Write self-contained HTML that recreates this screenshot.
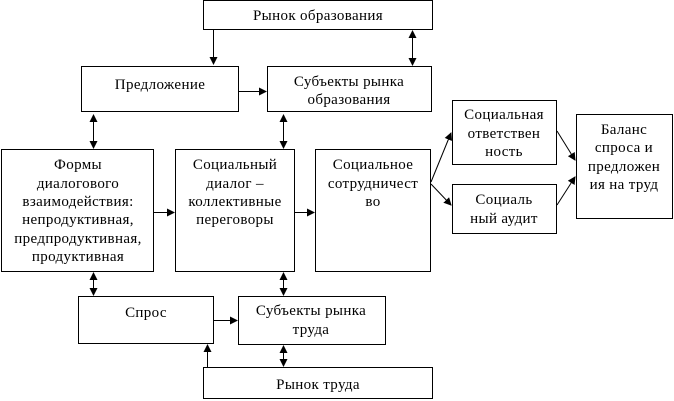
<!DOCTYPE html><html><head><meta charset="utf-8"><style>body{margin:0;background:#fff}svg{display:block}text{font-family:"Liberation Serif",serif;font-size:15px;letter-spacing:0.35px;fill:#000;text-anchor:middle}</style></head><body>
<svg width="674" height="401" viewBox="0 0 674 401">
<defs><marker id="a" markerWidth="8" markerHeight="8" refX="7" refY="4" orient="auto" markerUnits="userSpaceOnUse"><path d="M0,0 L8,4 L0,8z"/></marker>
<marker id="b" markerWidth="8" markerHeight="8" refX="1" refY="4" orient="auto" markerUnits="userSpaceOnUse"><path d="M8,0 L0,4 L8,8z"/></marker></defs>
<g fill="#fff" stroke="#000" stroke-width="1">
<rect x="203.5" y="0.5" width="229" height="29"/>
<rect x="81.5" y="66.5" width="157" height="45"/>
<rect x="267.5" y="66.5" width="164" height="45"/>
<rect x="1.5" y="149.5" width="152" height="122"/>
<rect x="175.5" y="149.5" width="119" height="122"/>
<rect x="315.5" y="149.5" width="115" height="122"/>
<rect x="452.5" y="100.5" width="104" height="64"/>
<rect x="452.5" y="184.5" width="104" height="49"/>
<rect x="576.5" y="114.5" width="96" height="104"/>
<rect x="78.5" y="296.5" width="135" height="47"/>
<rect x="238.5" y="296.5" width="147" height="48"/>
<rect x="203.5" y="367.5" width="229" height="31"/>
</g>
<g stroke="#000" stroke-width="1" fill="none">
<line x1="213.5" y1="30" x2="213.5" y2="64" marker-end="url(#a)"/>
<line x1="412.5" y1="31" x2="412.5" y2="65" marker-start="url(#b)" marker-end="url(#a)"/>
<line x1="239" y1="91.5" x2="266" y2="91.5" marker-end="url(#a)"/>
<line x1="93.5" y1="115" x2="93.5" y2="148" marker-start="url(#b)" marker-end="url(#a)"/>
<line x1="283.5" y1="115" x2="283.5" y2="148" marker-start="url(#b)" marker-end="url(#a)"/>
<line x1="154" y1="212.5" x2="174" y2="212.5" marker-end="url(#a)"/>
<line x1="295" y1="212.5" x2="314" y2="212.5" marker-end="url(#a)"/>
<line x1="431" y1="182" x2="451" y2="133" marker-end="url(#a)"/>
<line x1="431" y1="184" x2="451" y2="205" marker-end="url(#a)"/>
<line x1="557" y1="131" x2="575" y2="160" marker-end="url(#a)"/>
<line x1="557" y1="205" x2="575" y2="177" marker-end="url(#a)"/>
<line x1="93.5" y1="273" x2="93.5" y2="295" marker-start="url(#b)" marker-end="url(#a)"/>
<line x1="283.5" y1="273" x2="283.5" y2="295" marker-start="url(#b)" marker-end="url(#a)"/>
<line x1="214" y1="320.5" x2="237" y2="320.5" marker-end="url(#a)"/>
<line x1="207.5" y1="367" x2="207.5" y2="345" marker-end="url(#a)"/>
<line x1="283.5" y1="346" x2="283.5" y2="366" marker-start="url(#b)" marker-end="url(#a)"/>
</g>
<text x="318" y="20">Рынок образования</text>
<text x="160" y="89">Предложение</text>
<text x="349" y="86">Субъекты рынка</text><text x="349" y="104">образования</text>
<text x="78" y="169">Формы</text><text x="78" y="188">диалогового</text><text x="78" y="206">взаимодействия:</text><text x="78" y="224">непродуктивная,</text><text x="78" y="243">предпродуктивная,</text><text x="78" y="261">продуктивная</text>
<text x="235" y="169">Социальный</text><text x="235" y="188">диалог –</text><text x="235" y="206">коллективные</text><text x="235" y="224">переговоры</text>
<text x="373" y="169">Социальное</text><text x="373" y="188">сотрудничест</text><text x="373" y="206">во</text>
<text x="504" y="119">Социальная</text><text x="504" y="138">ответствен</text><text x="504" y="156">ность</text>
<text x="504" y="204">Социаль</text><text x="504" y="223">ный аудит</text>
<text x="624" y="134">Баланс</text><text x="624" y="152">спроса и</text><text x="624" y="171">предложен</text><text x="624" y="189">ия на труд</text>
<text x="146" y="317">Спрос</text>
<text x="311" y="315">Субъекты рынка</text><text x="311" y="334">труда</text>
<text x="318" y="389">Рынок труда</text>
</svg></body></html>
